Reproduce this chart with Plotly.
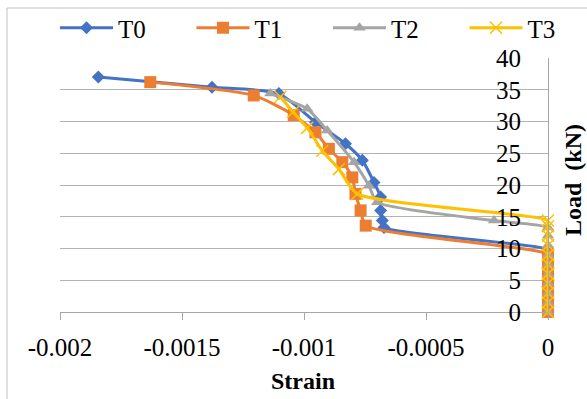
import plotly.graph_objects as go

# ---- data (strain, load kN) ----
t0_strain = [0, 0, 0, 0, 0, 0, 0, 0, 0, 0, 0,
             -0.000672, -0.000679, -0.000686, -0.000686, -0.000713,
             -0.000761, -0.000830, -0.000953, -0.001103, -0.001377, -0.001843]
t0_load = [0, 1, 2, 3, 4, 5, 6, 7, 8, 9, 9.8,
           13.3, 14.4, 16.0, 18.1, 20.4, 23.9, 26.5, 29.9, 34.4, 35.4, 37.0]

t1_strain = [0, 0, 0, 0, 0, 0, 0, 0, 0, 0,
             -0.000747, -0.000768, -0.000789, -0.000802, -0.000843,
             -0.000898, -0.000953, -0.001042, -0.001206, -0.001630]
t1_load = [0, 1, 2, 3, 4, 5, 6, 7, 8, 9.1,
           13.6, 16.0, 18.6, 21.2, 23.6, 25.7, 28.3, 31.0, 34.1, 36.2]

t2_strain = [0, 0, 0, 0, 0, 0, 0, 0, 0, 0,
             -0.000221, -0.000700, -0.000734, -0.000795, -0.000905,
             -0.000987, -0.001138]
t2_load = [0, 1.5, 3, 4.5, 6, 7.5, 9, 10.5, 12, 13.3,
           14.4, 17.3, 19.9, 23.6, 28.6, 32.0, 34.4]

t3_strain = [0, 0, 0, 0, 0, 0, 0, 0, 0, 0, 0,
             -0.000782, -0.000857, -0.000925, -0.000987, -0.001045, -0.001097]
t3_load = [0, 1.5, 3, 4.5, 6, 7.5, 9, 10.5, 12, 13.5, 14.4,
           18.6, 22.5, 25.4, 29.0, 31.5, 33.9]

series_names = ["T0", "T1", "T2", "T3"]
x_ticks = [-0.002, -0.0015, -0.001, -0.0005, 0]
x_tick_labels = ["-0.002", "-0.0015", "-0.001", "-0.0005", "0"]
y_ticks = [0, 5, 10, 15, 20, 25, 30, 35, 40]

FONT = "'Liberation Serif', 'Times New Roman', Times, 'DejaVu Serif', serif"
FS = 25
fig = go.Figure()

fig.add_trace(go.Scatter(x=t0_strain, y=t0_load, name=series_names[0], mode="lines+markers",
                         cliponaxis=False,
                         line=dict(color="#4472C4", width=3, shape="spline", smoothing=0.6),
                         marker=dict(symbol="diamond", size=10, color="#4472C4")))
fig.add_trace(go.Scatter(x=t1_strain, y=t1_load, name=series_names[1], mode="lines+markers",
                         cliponaxis=False,
                         line=dict(color="#ED7D31", width=3, shape="spline", smoothing=0.6),
                         marker=dict(symbol="square", size=12, color="#ED7D31")))
fig.add_trace(go.Scatter(x=t2_strain, y=t2_load, name=series_names[2], mode="lines+markers",
                         cliponaxis=False,
                         line=dict(color="#A5A5A5", width=3, shape="spline", smoothing=0.6),
                         marker=dict(symbol="triangle-up", size=11, color="#A5A5A5")))
fig.add_trace(go.Scatter(x=t3_strain, y=t3_load, name=series_names[3], mode="lines+markers",
                         cliponaxis=False,
                         line=dict(color="#FFC000", width=3, shape="spline", smoothing=0.6),
                         marker=dict(symbol="x-thin", size=12, color="#FFC000",
                                     line=dict(color="#FFC000", width=1.5))))

px_l, px_r, py_t, py_b = 60, 548, 58, 312
W, H = 587, 399
pw, ph = px_r - px_l, py_b - py_t

def pxx(p):
    return (p - px_l) / pw

def pyy(p):
    return (py_b - p) / ph

fig.update_layout(
    width=W, height=H,
    margin=dict(l=px_l, r=W - px_r, t=py_t, b=H - py_b, pad=0, autoexpand=False),
    paper_bgcolor="white", plot_bgcolor="white",
    font=dict(family=FONT, size=FS, color="black"),
    showlegend=True,
    legend=dict(orientation="h", x=pxx(55), y=pyy(28), xanchor="left", yanchor="middle",
                entrywidth=68.5, entrywidthmode="pixels", itemwidth=53,
                font=dict(family=FONT, size=FS), bgcolor="rgba(0,0,0,0)",
                tracegroupgap=0),
    xaxis=dict(range=[-0.002, 0], tickvals=x_ticks, ticktext=x_tick_labels,
               showgrid=False, zeroline=False, showline=True, linecolor="#a6a6a6", linewidth=1,
               ticks="outside", ticklen=7, tickcolor="#a6a6a6",
               tickfont=dict(family=FONT, size=FS), ticklabelstandoff=6),
    yaxis=dict(range=[0, 40], tickvals=y_ticks, side="left", anchor="free", position=1,
               ticklabelposition="outside",
               showgrid=True, gridcolor="#b3b3b3", gridwidth=1,
               zeroline=False, showline=True, linecolor="#a6a6a6", linewidth=1,
               ticks="", tickfont=dict(family=FONT, size=FS), ticklabelstandoff=22),
    shapes=[dict(type="rect", xref="paper", yref="paper",
                 x0=pxx(7), x1=pxx(620), y0=pyy(430), y1=pyy(8),
                 line=dict(color="#bfbfbf", width=1), fillcolor="rgba(0,0,0,0)", layer="below")],
    annotations=[
        dict(text="<b>Strain</b>", xref="paper", yref="paper", x=pxx(303), y=pyy(381),
             showarrow=False, xanchor="center", yanchor="middle",
             font=dict(family=FONT, size=24)),
        dict(text="<b>Load\u00a0 (kN)</b>", xref="paper", yref="paper", x=pxx(573), y=pyy(180),
             showarrow=False, xanchor="center", yanchor="middle", textangle=-90,
             font=dict(family=FONT, size=24)),
    ],
)

fig.write_html("out.html")
